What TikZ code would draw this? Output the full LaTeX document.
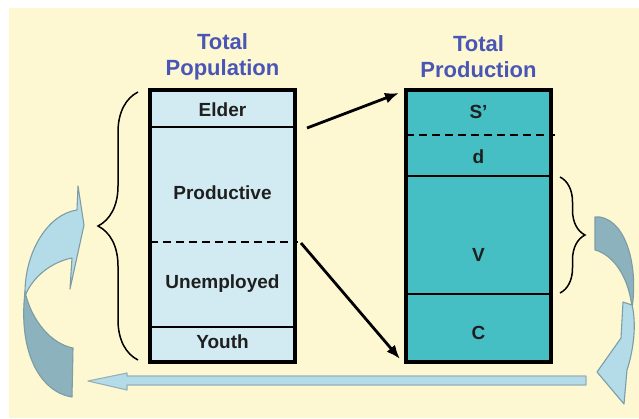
\documentclass[tikz,border=0pt]{standalone}
\usepackage[dvipsnames]{xcolor}
\usepackage{fontspec}
\setmainfont{Liberation Sans}
\usepackage{tikz}
\usetikzlibrary{arrows.meta,calc}
\usetikzlibrary{decorations.pathreplacing}

\definecolor{cream}{HTML}{FDF8D2}
\definecolor{titleblue}{HTML}{4A56B6}
\definecolor{popblue}{HTML}{D2EBF3}
\definecolor{prodteal}{HTML}{45BFC3}
\definecolor{ribbonlight}{HTML}{B3DCE8}
\definecolor{ribbondark}{HTML}{8CB2BD}
\definecolor{ribbonedge}{HTML}{7C9CA6}

\tikzset{
    title/.style={font=\fontsize{22}{26}\selectfont\bfseries, text=titleblue, align=center},
    celltext/.style={font=\fontsize{19}{21}\selectfont\bfseries, text=black!88},
    colbox/.style={draw, line width=3.8, minimum width=145, minimum height=272, inner sep=0, outer sep=0},
    divider/.style={line width=1.7},
    cut/.style={line width=2.3, dash pattern=on 8 off 5},
    flow/.style={line width=2.8, -{Latex[length=14,width=11]}},
    ribbon/.style={draw=ribbonedge, line width=1.1, line join=round},
    curly/.style={decorate, decoration={brace, amplitude=#1}, line width=1.5},
}

\begin{document}
\begin{tikzpicture}[x=1pt, y=-1pt]
    \useasboundingbox (0,0) rectangle (639,418);
    \fill[cream] (9,8) rectangle (639,418);

    % the two columns
    \node[colbox, fill=popblue] (pop) at (222.5,226) {};
    \node[colbox, fill=prodteal] (prod) at (478.5,226) {};
    \draw[divider] (pop.west |- 0,127) -- (pop.east |- 0,127);
    \draw[divider] (pop.west |- 0,327) -- (pop.east |- 0,327);
    \draw[cut] (pop.west |- 0,242) -- (298,242);
    \draw[cut] (prod.west |- 0,135) -- (555,135);
    \draw[divider] (prod.west |- 0,176) -- (prod.east |- 0,176);
    \draw[divider] (prod.west |- 0,294) -- (prod.east |- 0,294);

    \node[title] (poptitle) at (222.5,57) {Total\\Population};
    \node[title] (prodtitle) at (478.5,57) {Total\\Production};

    \node[celltext] (elder) at (222.5,110) {Elder};
    \node[celltext] (productive) at (222.5,193) {Productive};
    \node[celltext] (unemployed) at (222.5,284) {Unemployed};
    \node[celltext] (youth) at (222.5,342) {Youth};
    \node[celltext] (surplus) at (478.5,112) {S'};
    \node[celltext] (depr) at (478.5,157) {d};
    \node[celltext] (variable) at (478.5,255) {V};
    \node[celltext] (constant) at (478.5,333) {C};

    % braces
    \draw[curly=40] (138,360) -- (138,92);
    \draw[curly=25] (560,177) -- (560,293);

    % arrows between the columns
    \coordinate (popout) at (307,128);
    \coordinate (prodin) at (399,93);
    \coordinate (cutout) at (301,243);
    \coordinate (prodfoot) at (400,359);
    \draw[flow] (popout) -- (prodin);
    \draw[flow] (cutout) -- (prodfoot);

    % twisted ribbon arrows
    \filldraw[ribbon, fill=ribbondark] (73,348) -- (72,397) .. controls (40,392) and (18,352) .. (25,292) .. controls (32,322) and (52,344) .. cycle;
    \filldraw[ribbon, fill=ribbonlight] (25,296) .. controls (24,252) and (48,214) .. (77,210) -- (78,186) -- (84,225) -- (70,289) -- (72,258) .. controls (52,262) and (33,276) .. cycle;
    \filldraw[ribbon, fill=ribbondark] (595,217) -- (595,250) .. controls (614,255) and (629,278) .. (632,308) .. controls (638,270) and (628,222) .. (600,217) -- cycle;
    \filldraw[ribbon, fill=ribbonlight] (632,305) .. controls (637,325) and (633,352) .. (627,370) -- (624,404) -- (597,372) -- (621,338) -- (623,302) -- cycle;
    \filldraw[ribbon, fill=ribbonlight, draw=ribbonedge!80] (88,381) -- (127,373) -- (127,376) -- (586,376) -- (586,385) -- (127,385) -- (127,390) -- cycle;
\end{tikzpicture}
\end{document}
